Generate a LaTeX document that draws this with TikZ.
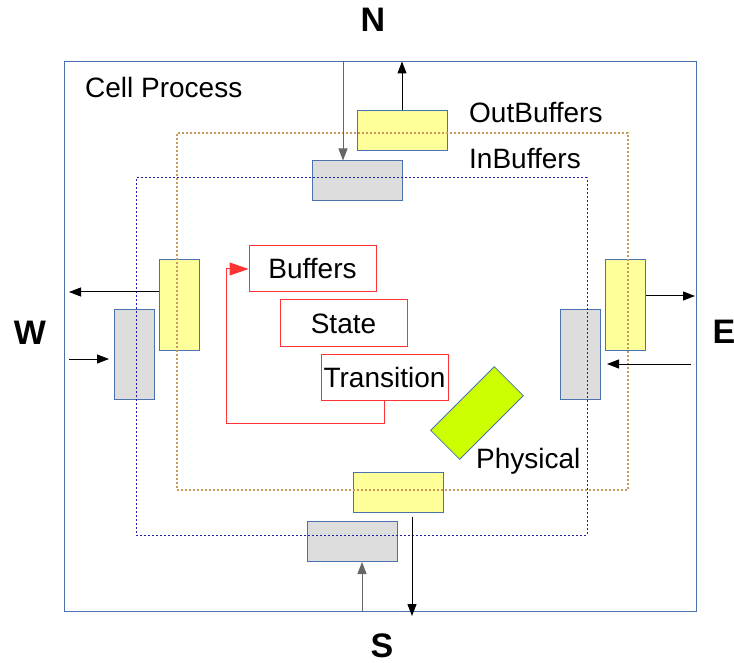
\documentclass[tikz,border=0pt]{standalone}
\usepackage{fontspec}
\setmainfont{Liberation Sans}
\usetikzlibrary{arrows.meta,positioning}

\definecolor{frameblue}{HTML}{4A72B0}
\definecolor{bufgray}{HTML}{DDDDDD}
\definecolor{bufyellow}{HTML}{FFFF99}
\definecolor{ringorange}{HTML}{C69A5C}
\definecolor{ringblue}{HTML}{2020A8}
\definecolor{partred}{HTML}{FF3333}
\definecolor{physgreen}{HTML}{CCFF00}
\definecolor{arrowgray}{HTML}{666666}

\begin{document}
\begin{tikzpicture}[x=1pt,y=-1pt,on grid,
	>={Triangle[length=12pt,width=9pt]},
	every node/.style={font=\fontsize{28}{32}\selectfont},
	buf/.style={draw=frameblue,line width=1pt,minimum width=90pt,minimum height=40pt,inner sep=0pt},
	vert/.style={minimum width=40pt,minimum height=90pt},
	inbuf/.style={buf,fill=bufgray},
	outbuf/.style={buf,fill=bufyellow},
	ring/.style={dash pattern=on 1.6pt off 2.4pt,minimum width=451pt,minimum height=357pt,inner sep=0pt},
	part/.style={draw=partred,line width=1pt,minimum width=127pt,minimum height=46pt,text height=20pt,text depth=0pt,inner sep=0pt},
	label/.style={inner sep=0pt,anchor=base west},
	compass/.style={font=\fontsize{34}{38}\selectfont\bfseries,inner sep=0pt,text height=24pt,text depth=0pt},
	wire/.style={->,line width=1pt}]
	\useasboundingbox (0,0) rectangle (734,663);
	
	\node[draw=frameblue,line width=1pt,minimum width=632pt,minimum height=549pt,inner sep=0pt] (cell) at (380,336.5) {};
	\node[label] (celltitle) at (85,98) {Cell Process};
	
	% buffers on each side
	\node[outbuf] (nout) at (402,131) {};
	\node[inbuf, below left = 50pt and 45pt of nout] (nin) {};
	\node[outbuf,vert] (wout) at (179,305) {};
	\node[inbuf,vert, below left = 49.5pt and 44.5pt of wout] (win) {};
	\node[outbuf,vert] (eout) at (625.5,305) {};
	\node[inbuf,vert, below left = 49.5pt and 45pt of eout] (ein) {};
	\node[outbuf] (sout) at (398,492) {};
	\node[inbuf, below left = 49.5pt and 45.5pt of sout] (sin) {};
	
	\node[ring,draw=ringorange,line width=1.4pt] (outring) at (402.5,311.5) {};
	\node[ring,draw=ringblue,line width=1pt] (inring) at (361.5,356.5) {};
	\node[label] (outtitle) at (469,123) {OutBuffers};
	\node[label] (intitle) at (469,169) {InBuffers};
	
	\node[part] (buffers) at (312.5,269) {Buffers};
	\node[part, below right = 54pt and 31pt of buffers] (state) {State};
	\node[part, below right = 54.5pt and 41pt of state] (trans) {Transition};
	\draw[partred,line width=1pt,-{Triangle[length=19pt,width=13pt]}] (trans.south) -- ++(0,22) -| ([xshift=-22pt]buffers.west) -- (buffers.west);
	
	\node[draw=frameblue,fill=physgreen,line width=0.8pt,minimum width=90pt,minimum height=41pt,rotate=45] (phys) at (477,413) {};
	\node[label] (phystitle) at (476,468) {Physical};
	
	\node[compass] (north) at (373,20) {N};
	\node[compass] (west) at (30,332) {W};
	\node[compass] (east) at (724,331) {E};
	\node[compass] (south) at (382,645) {S};
	
	% connectors through the cell wall
	\coordinate (ntop) at (343,62);
	\coordinate (wleft) at (69,292);
	\coordinate (wright) at (69,359);
	\coordinate (eend) at (695,296);
	\coordinate (estart) at (691,364);
	\coordinate (sstart) at (362,611);
	\coordinate (send) at (412,616);
	\draw[wire,arrowgray] (ntop) -- (ntop |- nin.north);
	\draw[wire] (nout.north) -- (nout.north |- cell.north);
	\draw[wire] (wleft -| wout.west) -- (wleft);
	\draw[wire] (wright) -- ([xshift=-5pt]wright -| win.west);
	\draw[wire] (eend -| eout.east) -- (eend);
	\draw[wire] (estart) -- ([xshift=6pt]estart -| ein.east);
	\draw[wire,arrowgray] (sstart) -- (sstart |- sin.south);
	\draw[wire] ([yshift=-4pt]send |- sout.south) -- (send);
\end{tikzpicture}
\end{document}
